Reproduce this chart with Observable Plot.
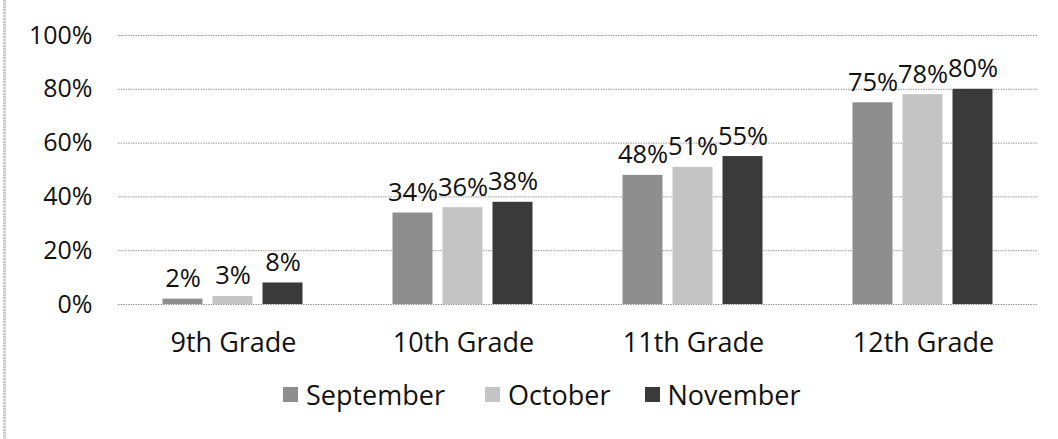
<!DOCTYPE html>
<html>
<head>
<meta charset="utf-8">
<script src="https://cdn.jsdelivr.net/npm/d3@7"></script>
<script src="https://cdn.jsdelivr.net/npm/@observablehq/plot@0.6"></script>
<style>
  html, body { margin: 0; padding: 0; background: #fff; }
  body { width: 1058px; height: 439px; position: relative; overflow: hidden; font-family: "Open Sans", sans-serif; color: #111; }
  #edge { position: absolute; left: 3px; top: 0; width: 3px; height: 439px;
          background: repeating-linear-gradient(#c9c9c9 0 2px, #eee 2px 3px); }
  #legend { display: flex; align-items: center; margin-left: 283px; height: 48px; font-size: 27px; }
  .item { display: flex; align-items: center; }
  .sw { width: 15px; height: 15px; margin-right: 8px; }
</style>
</head>
<body>
<div id="edge"></div>
<div id="chart"></div>
<div id="legend"></div>
<script>
const grades = ["9th Grade", "10th Grade", "11th Grade", "12th Grade"];
const months = ["September", "October", "November"];
const september = [2, 34, 48, 75];
const october = [3, 36, 51, 78];
const november = [8, 38, 55, 80];
const yTicks = [0, 20, 40, 60, 80, 100];
const colors = ["#8e8e8e", "#c4c4c4", "#3a3a3a"];

const series = [september, october, november];
const data = grades.flatMap((g, i) => months.map((m, j) => ({grade: g, month: m, value: series[j][i]})));

const chart = Plot.plot({
  width: 1058,
  height: 370,
  marginLeft: 116.5,
  marginRight: 18,
  marginTop: 35,
  marginBottom: 66,
  style: {fontFamily: "Open Sans, sans-serif", color: "#111", background: "transparent"},
  fx: {domain: grades, padding: 0, label: null},
  x: {domain: months, paddingInner: 10 / 51, paddingOuter: 0.863, axis: null},
  y: {domain: [0, 100], label: null},
  color: {domain: months, range: colors},
  marks: [
    Plot.gridY(yTicks, {stroke: "#9a9a9a", strokeOpacity: 1, strokeDasharray: "1.5,1"}),
    Plot.axisY(yTicks, {tickSize: 0, tickPadding: 26, tickFormat: d => d + "%", fontSize: 25, label: null}),
    Plot.axisFx({anchor: "bottom", tickSize: 0, tickPadding: 28, fontSize: 27, label: null}),
    Plot.barY(data, {fx: "grade", x: "month", y: "value", fill: "month"}),
    Plot.text(data, {fx: "grade", x: "month", y: "value", text: d => d.value + "%",
      lineAnchor: "bottom", dy: -12, fontSize: 25.5, fill: "#111"})
  ]
});
document.getElementById("chart").appendChild(chart);

const legend = document.getElementById("legend");
const gaps = [40, 34, 0];
months.forEach((m, j) => {
  const item = document.createElement("div");
  item.className = "item";
  item.style.marginRight = gaps[j] + "px";
  const sw = document.createElement("div");
  sw.className = "sw";
  sw.style.background = colors[j];
  const t = document.createElement("span");
  t.textContent = m;
  item.appendChild(sw);
  item.appendChild(t);
  legend.appendChild(item);
});
</script>
</body>
</html>
